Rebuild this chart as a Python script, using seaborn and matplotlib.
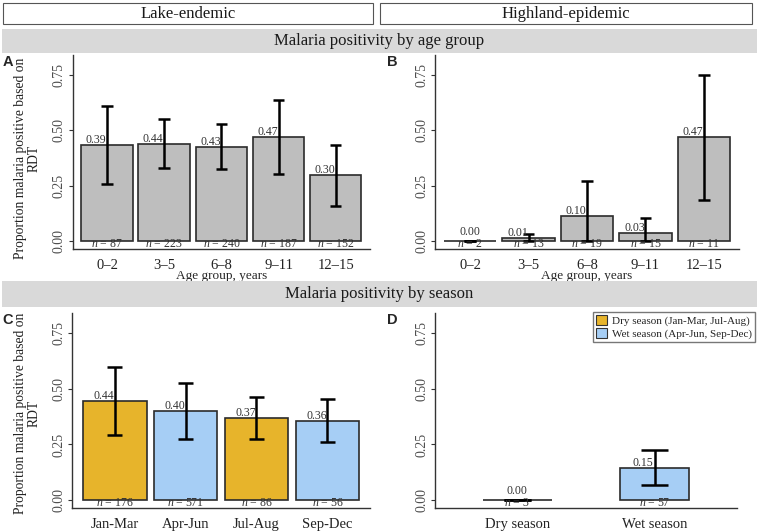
import numpy as np
import pandas as pd
import seaborn as sns
import matplotlib.pyplot as plt
from matplotlib.patches import Rectangle, Patch

plt.switch_backend("Agg")

# ---- data ----
age_groups = ["0\u20132", "3\u20135", "6\u20138", "9\u201311", "12\u201315"]

lake_age_prop = [0.435, 0.44, 0.425, 0.468, 0.297]
lake_age_lo = [0.258, 0.33, 0.324, 0.303, 0.159]
lake_age_hi = [0.612, 0.551, 0.531, 0.636, 0.435]
lake_age_text = ["0.39", "0.44", "0.43", "0.47", "0.30"]
lake_age_n = [87, 223, 240, 187, 152]

high_age_prop = [0.0, 0.0135, 0.114, 0.0375, 0.47]
high_age_lo = [0.0, 0.0, 0.0, 0.0, 0.1875]
high_age_hi = [0.0, 0.033, 0.273, 0.107, 0.75]
high_age_text = ["0.00", "0.01", "0.10", "0.03", "0.47"]
high_age_n = [2, 13, 19, 15, 11]

months = ["Jan-Mar", "Apr-Jun", "Jul-Aug", "Sep-Dec"]
month_season = ["Dry", "Wet", "Dry", "Wet"]
lake_month_prop = [0.443, 0.40, 0.369, 0.357]
lake_month_lo = [0.294, 0.275, 0.275, 0.26]
lake_month_hi = [0.597, 0.525, 0.461, 0.455]
lake_month_text = ["0.44", "0.40", "0.37", "0.36"]
lake_month_n = [176, 571, 86, 56]

seasons = ["Dry season", "Wet season"]
season_kind = ["Dry", "Wet"]
high_season_prop = [0.0, 0.146]
high_season_lo = [0.0, 0.070]
high_season_hi = [0.0, 0.224]
high_season_text = ["0.00", "0.15"]
high_season_n = [3, 57]

season_colors = {"Dry": "#E7B42B", "Wet": "#A6CEF5"}
bar_grey = "#BEBEBE"

# ---- style ----
sns.set_style("white")
plt.rcParams["font.family"] = ["Liberation Serif", "DejaVu Serif"]
plt.rcParams["mathtext.fontset"] = "custom"
plt.rcParams["mathtext.it"] = "Liberation Serif:italic"
plt.rcParams["mathtext.rm"] = "Liberation Serif"

W, H = 757, 531
fig = plt.figure(figsize=(W / 100, H / 100), dpi=100)


def box(l, t, r, b):
    return [l / W, 1 - b / H, (r - l) / W, (b - t) / H]


def panel(ax, cats, prop, lo, hi, text, ns, colors, width, xlabel=None):
    df = pd.DataFrame({"cat": cats, "val": prop})
    sns.barplot(data=df, x="cat", y="val", hue="cat", palette=colors,
                saturation=1, width=width, edgecolor="#2B2B2B", linewidth=1.2,
                legend=False, ax=ax)
    x = np.arange(len(cats))
    ax.vlines(x, lo, hi, color="black", lw=1.8, zorder=4)
    ax.hlines(lo, x - 0.1, x + 0.1, color="black", lw=1.8, zorder=4)
    ax.hlines(hi, x - 0.1, x + 0.1, color="black", lw=1.8, zorder=4)
    for xi, p, t, n in zip(x, prop, text, ns):
        if p > 0:
            ax.text(xi - 0.01, p - 0.004, t, ha="right", va="bottom",
                    fontsize=8.5, color="#333333", zorder=5)
        else:
            ax.text(xi, 0.013, t, ha="center", va="bottom",
                    fontsize=8.5, color="#333333", zorder=5)
        ax.text(xi, -0.014, f"$n$ = {n}", ha="center", va="center",
                fontsize=8.5, color="#333333", zorder=5)
    ax.set_xlim(-0.6, len(cats) - 0.4)
    ax.set_ylim(-0.035, 0.84)
    ax.set_yticks([0, 0.25, 0.5, 0.75])
    ax.set_yticklabels(["0.00", "0.25", "0.50", "0.75"])
    ax.tick_params(axis="y", labelrotation=90, labelsize=10,
                   labelcolor="#4D4D4D", length=3, width=0.8, pad=2,
                   left=True, color="#333333")
    for lab in ax.get_yticklabels():
        lab.set_va("center")
    ax.tick_params(axis="x", length=0, labelsize=10.5, labelcolor="#222222", pad=7)
    ax.set_ylabel("")
    if xlabel:
        ax.set_xlabel(xlabel, fontsize=9.5, labelpad=-1)
    else:
        ax.set_xlabel("")
    sns.despine(ax=ax)
    for s in ["left", "bottom"]:
        ax.spines[s].set_color("#333333")
        ax.spines[s].set_linewidth(1.0)


axA = fig.add_axes(box(72.7, 55, 370, 249))
axB = fig.add_axes(box(435, 55, 739, 249))
axC = fig.add_axes(box(72, 313, 370, 508))
axD = fig.add_axes(box(435, 313, 737, 508))

panel(axA, age_groups, lake_age_prop, lake_age_lo, lake_age_hi, lake_age_text,
      lake_age_n, [bar_grey] * 5, 0.9, "Age group, years")
panel(axB, age_groups, high_age_prop, high_age_lo, high_age_hi, high_age_text,
      high_age_n, [bar_grey] * 5, 0.9, "Age group, years")
panel(axC, months, lake_month_prop, lake_month_lo, lake_month_hi, lake_month_text,
      lake_month_n, [season_colors[s] for s in month_season], 0.9)
panel(axD, seasons, high_season_prop, high_season_lo, high_season_hi,
      high_season_text, high_season_n,
      [season_colors[s] for s in season_kind], 0.5)

# ---- header strips ----
def strip(l, t, r, b, label, face, edge):
    fig.patches.append(Rectangle((l / W, 1 - b / H), (r - l) / W, (b - t) / H,
                                 transform=fig.transFigure, facecolor=face,
                                 edgecolor=edge, lw=0.8))
    fig.text((l + r) / 2 / W, 1 - (t + b) / 2 / H, label, ha="center",
             va="center", fontsize=12, color="#1A1A1A")


strip(3, 3, 373, 24, "Lake-endemic", "white", "#555555")
strip(380, 3, 752, 24, "Highland-epidemic", "white", "#555555")
strip(2, 29, 757, 53, "Malaria positivity by age group", "#D9D9D9", "none")
strip(2, 281, 757, 307, "Malaria positivity by season", "#D9D9D9", "none")

# ---- panel letters and y labels ----
for letter, (px, py) in zip("ABCD", [(7.5, 62.5), (392, 62.5), (7.5, 320), (392, 320)]):
    fig.text(px / W, 1 - py / H, letter, ha="center", va="center",
             fontfamily="Liberation Sans", fontweight="bold", fontsize=10.5)

for cy in [158, 413]:
    fig.text(27 / W, 1 - cy / H, "Proportion malaria positive based on\nRDT",
             rotation=90, ha="center", va="center", multialignment="center",
             fontsize=9.8, color="#222222", linespacing=1.05)

# ---- legend ----
handles = [Patch(facecolor=season_colors["Dry"], edgecolor="#333333", lw=0.8),
           Patch(facecolor=season_colors["Wet"], edgecolor="#333333", lw=0.8)]
fig.legend(handles, ["Dry season (Jan-Mar, Jul-Aug)", "Wet season (Apr-Jun, Sep-Dec)"],
           loc="upper left", bbox_to_anchor=(593 / W, 1 - 312 / H),
           fontsize=8, frameon=True, fancybox=False, edgecolor="#555555",
           handlelength=1.0, handleheight=1.0, handletextpad=0.4,
           borderpad=0.3, labelspacing=0.15, borderaxespad=0)

fig.savefig("out.png", dpi=100)
